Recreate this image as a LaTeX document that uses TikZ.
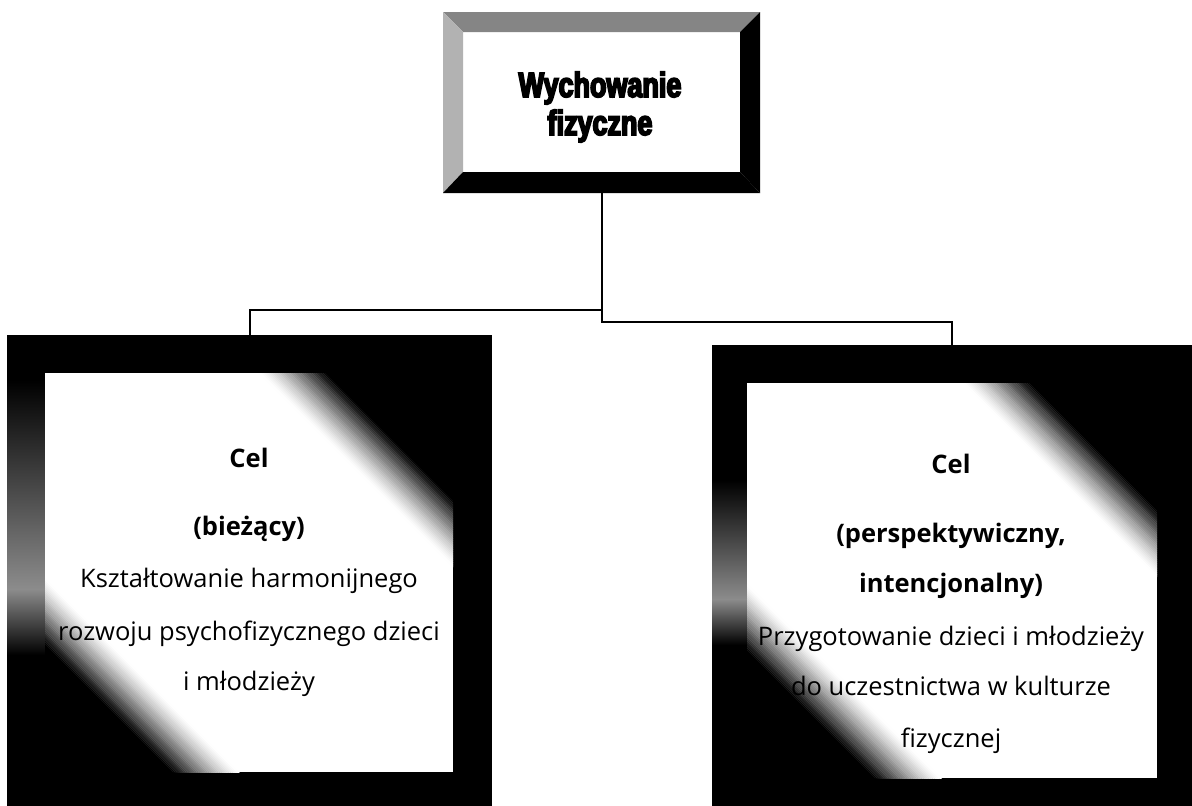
\documentclass[tikz,border=0pt]{standalone}
\usepackage{fontspec}
\setmainfont{Open Sans}
\newfontfamily\impactfont[FakeStretch=0.77,FakeBold=5]{Liberation Sans}
\usetikzlibrary{calc}
\tikzset{
  conn/.style={line width=2pt, black},
  boxnode/.style={inner sep=0pt, draw=none},
  bt/.style={anchor=base, inner sep=0pt, font=\fontsize{25.5}{30}\selectfont},
  bbt/.style={anchor=base, inner sep=0pt, font=\fontsize{25.5}{30}\selectfont\bfseries},
  tt/.style={anchor=base, inner sep=0pt, font=\impactfont\bfseries\fontsize{35}{40}\selectfont},
}
\newcommand\faceshade[4]{%
  \begin{scope}
    \clip (#1,#2) rectangle (#3,#4);
    \fill[white] (#1,#2) rectangle (#3,#4);
    \pgfmathsetmacro\Tr{#3-#2-128}
    \pgfmathsetmacro\Bl{#1-#4+128}
    \pgfmathsetmacro\Yo{#2-5}
    \pgfmathsetmacro\Yi{#4+5}
    \fill[black] ({\Yo+\Tr},\Yo) -- ({\Yo+\Tr+800},\Yo) -- ({\Yi+\Tr+800},\Yi) -- ({\Yi+\Tr},\Yi) -- cycle;
    \fill[black] ({\Yo+\Bl-800},\Yo) -- ({\Yo+\Bl},\Yo) -- ({\Yi+\Bl},\Yi) -- ({\Yi+\Bl-800},\Yi) -- cycle;
    \foreach \i in {0,...,29}{%
      \pgfmathsetmacro\pp{100*(1-(\i+0.5)/30)^1.3}
      \pgfmathsetmacro\ua{\Tr-2.2*(\i+1)}
      \pgfmathsetmacro\ub{\Tr-2.2*\i+0.3}
      \fill[black!\pp] ({\Yo+\ua},\Yo) -- ({\Yo+\ub},\Yo) -- ({\Yi+\ub},\Yi) -- ({\Yi+\ua},\Yi) -- cycle;
      \pgfmathsetmacro\va{\Bl+2.2*\i-0.3}
      \pgfmathsetmacro\vb{\Bl+2.2*(\i+1)}
      \fill[black!\pp] ({\Yo+\va},\Yo) -- ({\Yo+\vb},\Yo) -- ({\Yi+\vb},\Yi) -- ({\Yi+\va},\Yi) -- cycle;
    }
  \end{scope}}
\begin{document}
\begin{tikzpicture}[x=1pt,y=-1pt]
\useasboundingbox (0,0) rectangle (1192,806);
\fill[white] (0,0) rectangle (1192,806);

% ---- top box ----
\node[boxnode, minimum width=317pt, minimum height=181pt] (top) at (601.5,102.5) {};
\fill[white] (463,32) rectangle (740,172);
\fill[black!48] (443,12) -- (760,12) -- (740,32) -- (463,32) -- cycle;
\fill[black!30] (443,12) -- (463,32) -- (463,172) -- (443,193) -- cycle;
\fill[black] (760,12) -- (760,193) -- (740,172) -- (740,32) -- cycle;
\fill[black] (443,193) -- (760,193) -- (740,172) -- (463,172) -- cycle;
\node[tt] (t1) at (600,97) {Wychowanie};
\node[tt] (t2) at (600,135) {fizyczne};

% ---- left box ----
\node[boxnode, minimum width=485pt, minimum height=471pt] (left) at (249.5,570.5) {};
\fill[black] (7,335) rectangle (492,806);
\shade[top color=black, bottom color=black!45] (7,380) rectangle (45,590);
\shade[top color=black!45, bottom color=black] (7,589) rectangle (45,655);
\faceshade{45}{373}{453}{772}
\node[bbt] (l1) at (249,467) {Cel};
\node[bbt] (l2) at (249,535) {(bieżący)};
\node[bt] (l3) at (249,587) {Kształtowanie harmonijnego};
\node[bt] (l4) at (249,640) {rozwoju psychofizycznego dzieci};
\node[bt] (l5) at (249,690) {i młodzieży};

% ---- right box ----
\node[boxnode, minimum width=480pt, minimum height=461pt] (right) at (952,575.5) {};
\fill[black] (712,345) rectangle (1192,806);
\shade[top color=black, bottom color=black!45] (712,480) rectangle (747,600);
\shade[top color=black!45, bottom color=black] (712,599) rectangle (747,645);
\faceshade{747}{383}{1157}{778}
\node[bbt] (r1) at (951,473) {Cel};
\node[bbt] (r2) at (951,542) {(perspektywiczny,};
\node[bbt] (r3) at (951,592) {intencjonalny)};
\node[bt] (r4) at (951,645) {Przygotowanie dzieci i młodzieży};
\node[bt] (r5) at (951,695) {do uczestnictwa w kulturze};
\node[bt] (r6) at (951,747) {fizycznej};

% ---- connectors ----
\coordinate (jl) at (top.south |- 0,310);
\coordinate (jr) at (top.south |- 0,322);
\draw[conn] (top.south) -- (jr) -| (right.north);
\draw[conn] (jl) -| (left.north);
\end{tikzpicture}
\end{document}
